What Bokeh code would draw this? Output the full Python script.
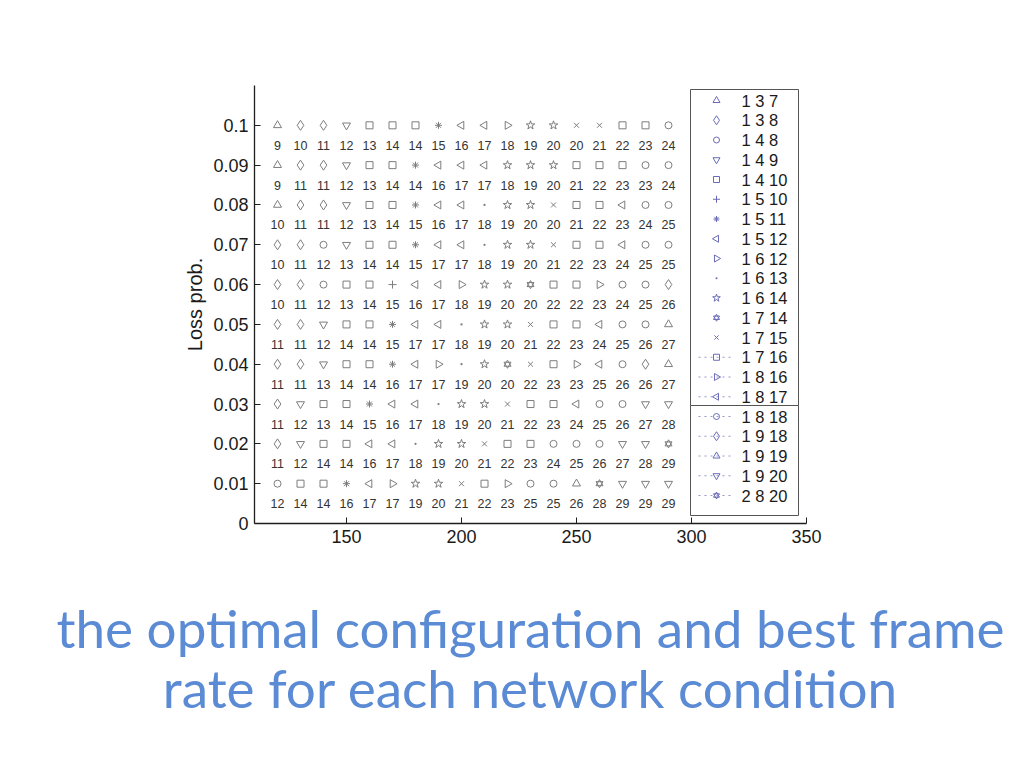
import math
from bokeh.plotting import figure
from bokeh.layouts import column
from bokeh.models import (ColumnDataSource, FixedTicker, PrintfTickFormatter, Range1d)
from bokeh.core.properties import value
from bokeh.embed import file_html
from bokeh.resources import INLINE

# ---------------- data ----------------
bandwidth = [120, 130, 140, 150, 160, 170, 180, 190, 200,
             210, 220, 230, 240, 250, 260, 270, 280, 290]
loss = [0.10, 0.09, 0.08, 0.07, 0.06, 0.05, 0.04, 0.03, 0.02, 0.01]

config_symbols = [
    "△ ◇ ◇ ▽ □ □ □ * ◁ ◁ ▷ ☆ ☆ × × □ □ ○",
    "△ ◇ ◇ ▽ □ □ * ◁ ◁ ◁ ☆ ☆ ☆ □ □ □ ○ ○",
    "△ ◇ ◇ ▽ □ □ * ◁ ◁ · ☆ ☆ × □ □ ◁ ○ ○",
    "◇ ◇ ○ ▽ □ □ * ◁ ◁ · ☆ ☆ × □ □ ◁ ○ ○",
    "◇ ◇ ○ □ □ + ◁ ◁ ▷ ☆ ☆ ✡ □ □ ▷ ○ ○ ◇",
    "◇ ◇ ▽ □ □ * ◁ ◁ · ☆ ☆ × □ □ ◁ ○ ○ △",
    "◇ ◇ ▽ □ □ * ◁ ▷ · ☆ ✡ × □ ▷ ◁ ○ ◇ △",
    "◇ ▽ □ □ * ◁ ◁ · ☆ ☆ × □ □ ◁ ○ ○ ▽ ▽",
    "◇ ▽ □ □ ◁ ◁ · ☆ ☆ × □ □ ○ ○ ○ ▽ ▽ ✡",
    "○ □ □ * ◁ ▷ ☆ ☆ × □ ▷ ○ ○ △ ✡ ▽ ▽ ▽",
]

frame_rates = [
    [9, 10, 11, 12, 13, 14, 14, 15, 16, 17, 18, 19, 20, 20, 21, 22, 23, 24],
    [9, 11, 11, 12, 13, 14, 14, 16, 17, 17, 18, 19, 20, 21, 22, 23, 23, 24],
    [10, 11, 11, 12, 13, 14, 15, 16, 17, 18, 19, 20, 20, 21, 22, 23, 24, 25],
    [10, 11, 12, 13, 14, 14, 15, 17, 17, 18, 19, 20, 21, 22, 23, 24, 25, 25],
    [10, 11, 12, 13, 14, 15, 16, 17, 18, 19, 20, 20, 22, 22, 23, 24, 25, 26],
    [11, 11, 12, 14, 14, 15, 17, 17, 18, 19, 20, 21, 22, 23, 24, 25, 26, 27],
    [11, 11, 13, 14, 14, 16, 17, 17, 19, 20, 20, 22, 23, 23, 25, 26, 26, 27],
    [11, 12, 13, 14, 15, 16, 17, 18, 19, 20, 21, 22, 23, 24, 25, 26, 27, 28],
    [11, 12, 14, 14, 16, 17, 18, 19, 20, 21, 22, 23, 24, 25, 26, 27, 28, 29],
    [12, 14, 14, 16, 17, 17, 19, 20, 21, 22, 23, 25, 25, 26, 28, 29, 29, 29],
]

legend_labels = ["1 3 7", "1 3 8", "1 4 8", "1 4 9", "1 4 10", "1 5 10",
                 "1 5 11", "1 5 12", "1 6 12", "1 6 13", "1 6 14", "1 7 14",
                 "1 7 15", "1 7 16", "1 8 16", "1 8 17",
                 "1 8 18", "1 9 18", "1 9 19", "1 9 20", "2 8 20"]
legend_symbols = ["△", "◇", "○", "▽", "□", "+", "*", "◁", "▷", "·", "☆", "✡",
                  "×", "□", "▷", "◁", "○", "◇", "△", "▽", "✡"]
legend_dotted = [False] * 13 + [True] * 8

x_ticks = [150, 200, 250, 300, 350]
y_ticks = [0, 0.01, 0.02, 0.03, 0.04, 0.05, 0.06, 0.07, 0.08, 0.09, 0.1]

caption_lines = ["the optimal configuration and best frame",
                 "rate for each network condition"]

# ---------------- styling ----------------
HALF_PI = math.pi / 2
SYM = {
    "△": [("triangle", 0.0, 8)],
    "◇": [("diamond", 0.0, 10)],
    "○": [("circle", 0.0, 7)],
    "▽": [("inverted_triangle", 0.0, 8)],
    "□": [("square", 0.0, 7)],
    "+": [("cross", 0.0, 8)],
    "*": [("asterisk", 0.0, 7)],
    "◁": [("triangle", HALF_PI, 8)],
    "▷": [("triangle", -HALF_PI, 8)],
    "·": [("dot", 0.0, 9)],
    "☆": [("star", 0.0, 9)],
    "✡": [("triangle", 0.0, 7), ("inverted_triangle", 0.0, 7)],
    "×": [("x", 0.0, 7)],
}
MARK_COLOR = "#7d7d7d"
NUM_COLOR = "#333333"
LEG_COLOR = "#6a6ab8"
AXIS_COLOR = "#1e1e1e"
FONT = "Liberation Sans"

W = 1008
H1, H2 = 560, 200
FRAME_W, FRAME_H = 552, 438
p = figure(width=W, height=H1, x_range=(110, 350), y_range=(0, 0.11),
           output_backend="svg", toolbar_location=None,
           min_border_left=254, min_border_right=202,
           min_border_top=85, min_border_bottom=H1 - 85 - FRAME_H)
p.frame_align = False
p.outline_line_color = None
p.xgrid.visible = False
p.ygrid.visible = False
p.background_fill_color = "white"
p.border_fill_color = "white"

# ---------------- grid of configurations ----------------
mx, my, mk, ma, ms = [], [], [], [], []
tx, ty, tt = [], [], []
for ri, yv in enumerate(loss):
    syms = config_symbols[ri].split()
    for ci, xv in enumerate(bandwidth):
        for (m, a, s) in SYM[syms[ci]]:
            mx.append(xv); my.append(yv); mk.append(m); ma.append(a); ms.append(s)
        tx.append(xv); ty.append(yv); tt.append(str(frame_rates[ri][ci]))

msrc = ColumnDataSource(dict(x=mx, y=my, marker=mk, angle=ma, size=ms))
p.scatter(x="x", y="y", marker="marker", angle="angle", size="size",
          source=msrc, fill_color=None, line_color=MARK_COLOR, line_width=1)

tsrc = ColumnDataSource(dict(x=tx, y=ty, text=tt))
p.text(x="x", y="y", text="text", source=tsrc, y_offset=20,
       text_align="center", text_baseline="middle",
       text_font=value(FONT), text_font_size="12.5px", text_color=NUM_COLOR)

# ---------------- axes ----------------
for ax in (p.xaxis[0], p.yaxis[0]):
    ax.axis_line_color = AXIS_COLOR
    ax.axis_line_width = 1.3
    ax.major_tick_line_color = AXIS_COLOR
    ax.major_tick_line_width = 1
    ax.major_tick_in = 6
    ax.major_tick_out = 0
    ax.minor_tick_line_color = None
    ax.major_label_text_font = FONT
    ax.major_label_text_font_size = "18px"
    ax.major_label_text_color = "#1a1a1a"
    ax.major_label_standoff = 6

p.xaxis.ticker = FixedTicker(ticks=x_ticks)
p.yaxis.ticker = FixedTicker(ticks=y_ticks)
p.yaxis.formatter = PrintfTickFormatter(format="%g")
p.yaxis.axis_label = "Loss prob."
p.yaxis.axis_label_text_font = FONT
p.yaxis.axis_label_text_font_size = "20px"
p.yaxis.axis_label_text_font_style = "normal"
p.yaxis.axis_label_text_color = "#1a1a1a"
p.yaxis.axis_label_standoff = 4

# ---------------- legend (drawn in a pixel-like layout range) ----------------
p.extra_x_ranges["leg"] = Range1d(0, FRAME_W)
p.extra_y_ranges["leg"] = Range1d(FRAME_H, 0)   # 0 = top of plot frame
LEG_LEFT, LEG_RIGHT = 436, 544
LEG_TOP, LEG_MID, LEG_BOTTOM = 4, 320, 430
ROW0, ROW_STEP = 15, 19.75
GLYPH_X, LINE_X0, LINE_X1, TEXT_X = 462, 444, 479, 487

p.quad(left=[LEG_LEFT, LEG_LEFT], right=[LEG_RIGHT, LEG_RIGHT],
       top=[LEG_TOP, LEG_MID], bottom=[LEG_MID, LEG_BOTTOM],
       x_range_name="leg", y_range_name="leg",
       fill_color="white", line_color="#555555", line_width=1)

n_leg = len(legend_labels)
row_y = [ROW0 + i * ROW_STEP for i in range(n_leg)]

dot_rows = [row_y[i] for i in range(n_leg) if legend_dotted[i]]
p.segment(x0=[LINE_X0] * len(dot_rows), x1=[LINE_X1] * len(dot_rows),
          y0=dot_rows, y1=dot_rows, x_range_name="leg", y_range_name="leg",
          line_color=LEG_COLOR, line_dash="dotted", line_width=1, line_alpha=0.7)

lx, ly, lm, la, ls = [], [], [], [], []
for i, sym in enumerate(legend_symbols):
    for (m, a, s) in SYM[sym]:
        lx.append(GLYPH_X); ly.append(row_y[i]); lm.append(m); la.append(a); ls.append(s - 1)
lsrc = ColumnDataSource(dict(x=lx, y=ly, marker=lm, angle=la, size=ls))
p.scatter(x="x", y="y", marker="marker", angle="angle", size="size", source=lsrc,
          x_range_name="leg", y_range_name="leg",
          fill_color=None, line_color=LEG_COLOR, line_width=1)

ltsrc = ColumnDataSource(dict(x=[TEXT_X] * n_leg, y=row_y, text=legend_labels))
p.text(x="x", y="y", text="text", source=ltsrc, x_range_name="leg", y_range_name="leg",
       text_align="left", text_baseline="middle",
       text_font=value(FONT), text_font_size="16.5px", text_color="#1a1a1a")

# ---------------- slide caption (separate strip, pixel-like ranges) ----------------
c = figure(width=W, height=H2, x_range=Range1d(0, W), y_range=Range1d(H2, 0),
           output_backend="svg", toolbar_location=None,
           x_axis_type=None, y_axis_type=None,
           min_border=0, min_border_left=0, min_border_right=0,
           min_border_top=0, min_border_bottom=0)
c.frame_align = False
c.outline_line_color = None
c.xgrid.visible = False
c.ygrid.visible = False
c.background_fill_color = "white"
c.border_fill_color = "white"
CAP_X, CAP_Y0, CAP_STEP = 530, 67, 60
csrc = ColumnDataSource(dict(x=[CAP_X] * len(caption_lines),
                             y=[CAP_Y0 + k * CAP_STEP for k in range(len(caption_lines))],
                             text=caption_lines))
c.text(x="x", y="y", text="text", source=csrc, text_align="center",
       text_baseline="alphabetic", text_font=value("Lato"), text_font_size="53px",
       text_color="#5b8bd4")

layout = column(p, c, spacing=0)
open("out.html", "w").write(file_html(layout, INLINE))
